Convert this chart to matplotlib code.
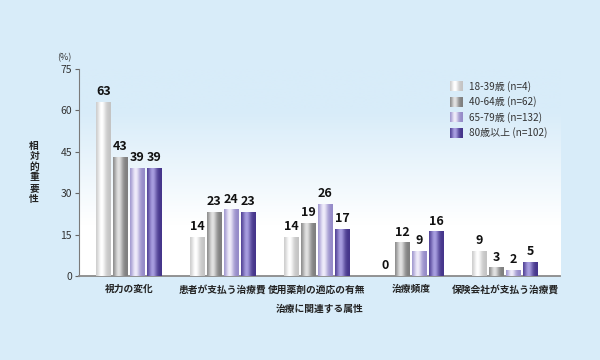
import numpy as np
import matplotlib
matplotlib.use("Agg")
import matplotlib.pyplot as plt
from matplotlib.legend_handler import HandlerBase
from matplotlib.image import BboxImage
from matplotlib.transforms import Bbox, TransformedBbox
from matplotlib.patches import Patch

plt.rcParams['font.family'] = ['Noto Sans CJK JP', 'DejaVu Sans']

# data
categories = ["視力の変化", "患者が支払う治療費", "使用薬剤の適応の有無", "治療頻度", "保険会社が支払う治療費"]
series_names = ["18-39歳 (n=4)", "40-64歳 (n=62)", "65-79歳 (n=132)", "80歳以上 (n=102)"]
age_18_39 = [63, 14, 14, 0, 9]
age_40_64 = [43, 23, 19, 12, 3]
age_65_79 = [39, 24, 26, 9, 2]
age_80_up = [39, 23, 17, 16, 5]
yticks = [0, 15, 30, 45, 60, 75]

values = [age_18_39, age_40_64, age_65_79, age_80_up]
# (edge colour, highlight colour) for the cylinder shading
shades = [("#c4c4c4", "#ffffff"),
          ("#7e7e7e", "#e2e2e2"),
          ("#948ac8", "#efecfa"),
          ("#44348a", "#a89ee0")]
bg = "#d8ecf9"


def grad(edge, hi, n=48):
    t = np.linspace(0, 1, n)
    f = np.exp(-((t - 0.38) / 0.28) ** 2)
    e = np.array(matplotlib.colors.to_rgb(edge))
    h = np.array(matplotlib.colors.to_rgb(hi))
    return (e[None, :] + (h - e)[None, :] * f[:, None])[None, :, :]


class GradHandler(HandlerBase):
    def __init__(self, img):
        super().__init__()
        self.img = img

    def create_artists(self, legend, orig_handle, xdescent, ydescent,
                       width, height, fontsize, trans):
        bb = TransformedBbox(Bbox.from_bounds(-xdescent, -ydescent, width, height), trans)
        im = BboxImage(bb, interpolation='bilinear')
        im.set_data(self.img)
        return [im]


fig = plt.figure(figsize=(6, 3.6), dpi=100)
fig.patch.set_facecolor(bg)
ax = fig.add_axes([0.1317, 0.2333, 0.8017, 0.575])

# background gradient in plot area
bgc = np.array(matplotlib.colors.to_rgb(bg))
tv = np.linspace(0, 1, 100)
fade = np.clip((tv - 0.2) / 0.55, 0, 1)[:, None]
bgimg = (bgc[None, :] * (1 - fade) + np.ones(3)[None, :] * fade)[:, None, :]
ax.imshow(bgimg, extent=[0, 1, 0, 1], transform=ax.transAxes, aspect='auto',
          zorder=0, interpolation='bilinear')

x = np.arange(len(categories))
step = 0.18
width = 0.154
handles = []
hmap = {}
for i, (vals, (edge, hi)) in enumerate(zip(values, shades)):
    bars = ax.bar(x + (i - 1.5) * step, vals, width, color=edge, zorder=2)
    g = grad(edge, hi)
    for p, v in zip(bars.patches, vals):
        if p.get_height() > 0:
            ax.imshow(g, extent=[p.get_x(), p.get_x() + p.get_width(), 0, p.get_height()],
                      aspect='auto', zorder=3, interpolation='bilinear')
        ax.annotate(str(v), (p.get_x() + p.get_width() / 2, p.get_height()),
                    xytext=(0, 3), textcoords='offset points', ha='center', va='bottom',
                    fontsize=9, fontweight='bold', color='#111111', zorder=4)
    h = Patch(label=series_names[i])
    handles.append(h)
    hmap[h] = GradHandler(g)

ax.set_xlim(-0.53, 4.585)
ax.set_ylim(0, 75)
ax.set_yticks(yticks)
ax.set_xticks(x)
ax.set_xticklabels(categories, fontsize=7, fontweight='bold', color='#222222')
ax.tick_params(axis='x', length=0, pad=6)
ax.tick_params(axis='y', length=3, width=0.8, colors='#666666', labelsize=7.5,
               labelcolor='#333333', pad=2)
for s in ['top', 'right']:
    ax.spines[s].set_visible(False)
ax.spines['left'].set_color('#7a7a7a')
ax.spines['bottom'].set_color('#8a8a8a')
ax.spines['bottom'].set_linewidth(1.3)
ax.set_xlabel("治療に関連する属性", fontsize=7, fontweight='bold', color='#222222', labelpad=7)

fig.text(0.057, 0.522, "\n".join("相対的重要性"), fontsize=7, fontweight='bold',
         ha='center', va='center', linespacing=1.08, color='#222222')
fig.text(0.108, 0.84, "(%)", fontsize=6.5, ha='center', va='center', color='#333333')

ax.legend(handles=handles, handler_map=hmap, loc='upper left', bbox_to_anchor=(0.752, 0.985),
          frameon=False, fontsize=7.2, handlelength=1.3, handleheight=1.1,
          labelspacing=0.45, handletextpad=0.6, labelcolor='#333333')

fig.savefig("out.png", dpi=100, facecolor=bg)
